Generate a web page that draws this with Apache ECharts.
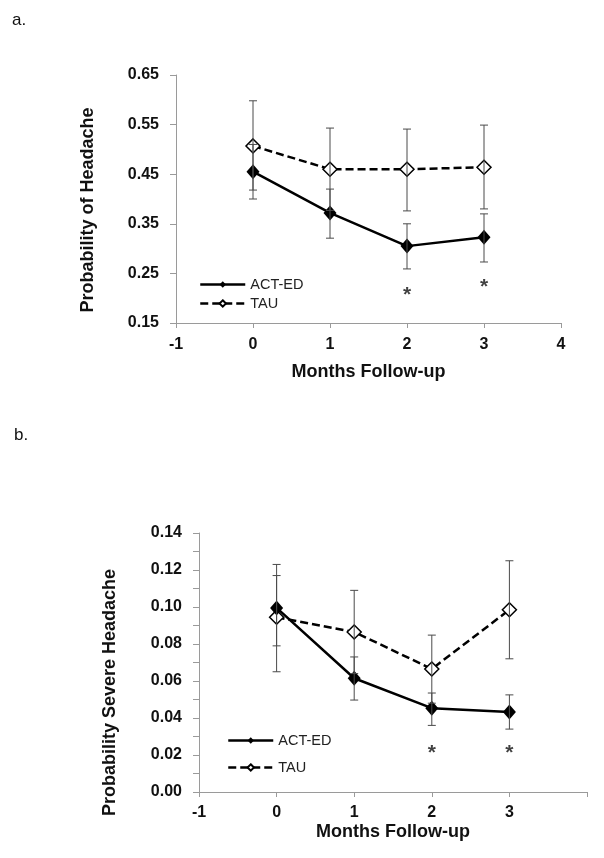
<!DOCTYPE html>
<html>
<head>
<meta charset="utf-8">
<script src="https://cdn.jsdelivr.net/npm/echarts@6/dist/echarts.min.js"></script>
<style>
html,body{margin:0;padding:0;background:#fff;}
#chart{width:604px;height:858px;}
</style>
</head>
<body>
<div id="chart"></div>
<script>
// ---- Data ----
var months = [0, 1, 2, 3];
var seriesNames = ['ACT-ED', 'TAU'];

// Panel a: Probability of Headache
var aAct      = [0.455, 0.372, 0.305, 0.323];
var aActLower = [0.400, 0.321, 0.259, 0.273];
var aActUpper = [0.510, 0.420, 0.350, 0.370];
var aTau      = [0.507, 0.460, 0.460, 0.464];
var aTauLower = [0.418, 0.377, 0.376, 0.380];
var aTauUpper = [0.598, 0.543, 0.541, 0.549];
var aStarX = [2, 3];
var aStarY = [0.2165, 0.233];

// Panel b: Probability Severe Headache
var bAct      = [0.0995, 0.0615, 0.0453, 0.0433];
var bActLower = [0.0790, 0.0497, 0.0360, 0.0340];
var bActUpper = [0.1170, 0.0730, 0.0535, 0.0525];
var bTau      = [0.0945, 0.0865, 0.0665, 0.0985];
var bTauLower = [0.0650, 0.0640, 0.0480, 0.0720];
var bTauUpper = [0.1230, 0.1090, 0.0848, 0.1250];
var bStarX = [2, 3];
var bStarY = [0.0238, 0.0238];

// ---- Helpers ----
var FONT = "'Liberation Sans', Arial, sans-serif";
var AXIS_GRAY = '#9a9a9a';
var TEXT = '#111';

function pairs(xs, ys) { return xs.map(function (x, i) { return [x, ys[i]]; }); }
function triples(xs, lo, hi) { return xs.map(function (x, i) { return [x, lo[i], hi[i]]; }); }

function errRender(params, api) {
  var x = api.value(0);
  var p1 = api.coord([x, api.value(1)]);
  var p2 = api.coord([x, api.value(2)]);
  var w = 4;
  var st = { stroke: '#4a4a4a', lineWidth: 1 };
  return {
    type: 'group',
    children: [
      { type: 'line', shape: { x1: p1[0], y1: p1[1], x2: p2[0], y2: p2[1] }, style: st },
      { type: 'line', shape: { x1: p1[0] - w, y1: p1[1], x2: p1[0] + w, y2: p1[1] }, style: st },
      { type: 'line', shape: { x1: p2[0] - w, y1: p2[1], x2: p2[0] + w, y2: p2[1] }, style: st }
    ]
  };
}

function xAxisCfg(gridIndex, nameGap, labelMargin, hide4) {
  return {
    type: 'value', gridIndex: gridIndex, min: -1, max: 4, interval: 1,
    name: 'Months Follow-up', nameLocation: 'middle', nameGap: nameGap,
    nameTextStyle: { fontFamily: FONT, fontWeight: 'bold', fontSize: 18, color: TEXT },
    axisLine: { onZero: false, lineStyle: { color: AXIS_GRAY, width: 1 } },
    axisTick: { show: true, length: 5, lineStyle: { color: AXIS_GRAY } },
    splitLine: { show: false },
    axisLabel: {
      margin: labelMargin, fontFamily: FONT, fontWeight: 'bold', fontSize: 16, color: TEXT,
      formatter: function (v) { return (hide4 && v === 4) ? '' : String(v); }
    }
  };
}

function actSeries(xi, yi, data) {
  return {
    name: 'ACT-ED', type: 'line', xAxisIndex: xi, yAxisIndex: yi,
    data: pairs(months, data), z: 2,
    symbol: 'diamond', symbolSize: [13, 15],
    itemStyle: { color: '#000' },
    lineStyle: { color: '#000', width: 2.5, type: 'solid' }
  };
}
function tauSeries(xi, yi, data) {
  return {
    name: 'TAU', type: 'line', xAxisIndex: xi, yAxisIndex: yi,
    data: pairs(months, data), z: 2,
    symbol: 'diamond', symbolSize: 14, showAllSymbol: true,
    itemStyle: { color: '#fff', borderColor: '#000', borderWidth: 1.5 },
    lineStyle: { color: '#000', width: 2.5, type: [8, 4] }
  };
}
function errSeries(xi, yi, data) {
  return {
    type: 'custom', xAxisIndex: xi, yAxisIndex: yi, z: 3, silent: true,
    renderItem: errRender, data: data
  };
}
function starSeries(xi, yi, xs, ys) {
  return {
    type: 'scatter', xAxisIndex: xi, yAxisIndex: yi, symbol: 'circle', symbolSize: 1,
    itemStyle: { color: 'rgba(0,0,0,0)' }, silent: true, z: 4,
    data: pairs(xs, ys),
    label: { show: true, position: 'inside', offset: [0, 5], formatter: '*',
      fontFamily: FONT, fontWeight: 'bold', fontSize: 21, color: TEXT }
  };
}

var chart = echarts.init(document.getElementById('chart'), null, { renderer: 'canvas' });

var legendText = { fontFamily: FONT, fontSize: 14.5, color: '#222' };

var option = {
  backgroundColor: '#fff',
  animation: false,
  grid: [
    { left: 176, right: 43, top: 75, height: 248 },
    { left: 199, right: 17, top: 533, height: 259 }
  ],
  legend: [
    {
      data: seriesNames, orient: 'vertical', left: 194, top: 272,
      itemWidth: 45, itemHeight: 8, itemGap: 4, textStyle: legendText,
      lineStyle: { width: 2.5 }
    },
    {
      data: seriesNames, orient: 'vertical', left: 222, top: 728,
      itemWidth: 45, itemHeight: 8, itemGap: 12, textStyle: legendText,
      lineStyle: { width: 2.5 }
    }
  ],
  xAxis: [
    xAxisCfg(0, 40, 14, false),
    xAxisCfg(1, 31, 13, true)
  ],
  yAxis: [
    {
      type: 'value', gridIndex: 0, min: 0.15, max: 0.65, interval: 0.1,
      name: 'Probability of Headache', nameLocation: 'middle', nameGap: 79,
      nameTextStyle: { fontFamily: FONT, fontWeight: 'bold', fontSize: 18, color: TEXT, padding: [0, 22, 0, 0] },
      axisLine: { show: true, onZero: false, lineStyle: { color: AXIS_GRAY, width: 1 } },
      axisTick: { show: true, length: 6, lineStyle: { color: AXIS_GRAY } },
      splitLine: { show: false },
      axisLabel: { margin: 17, fontFamily: FONT, fontWeight: 'bold', fontSize: 16, color: TEXT,
        formatter: function (v) { return v.toFixed(2); } }
    },
    {
      type: 'value', gridIndex: 1, min: 0, max: 0.14, interval: 0.02,
      name: 'Probability Severe Headache', nameLocation: 'middle', nameGap: 80,
      nameTextStyle: { fontFamily: FONT, fontWeight: 'bold', fontSize: 18, color: TEXT, padding: [0, 60, 0, 0] },
      axisLine: { show: true, onZero: false, lineStyle: { color: AXIS_GRAY, width: 1 } },
      axisTick: { show: true, length: 6, lineStyle: { color: AXIS_GRAY } },
      minorTick: { show: true, splitNumber: 2, length: 6, lineStyle: { color: AXIS_GRAY } },
      splitLine: { show: false },
      axisLabel: { margin: 17, fontFamily: FONT, fontWeight: 'bold', fontSize: 16, color: TEXT,
        formatter: function (v) { return v.toFixed(2); } }
    }
  ],
  graphic: [
    { type: 'text', left: 12, top: 12, style: { text: 'a.', fontFamily: FONT, fontSize: 17, fill: TEXT } },
    { type: 'text', left: 14, top: 427, style: { text: 'b.', fontFamily: FONT, fontSize: 17, fill: TEXT } }
  ],
  series: [
    tauSeries(0, 0, aTau),
    actSeries(0, 0, aAct),
    errSeries(0, 0, triples(months, aActLower, aActUpper)),
    errSeries(0, 0, triples(months, aTauLower, aTauUpper)),
    starSeries(0, 0, aStarX, aStarY),

    tauSeries(1, 1, bTau),
    actSeries(1, 1, bAct),
    errSeries(1, 1, triples(months, bActLower, bActUpper)),
    errSeries(1, 1, triples(months, bTauLower, bTauUpper)),
    starSeries(1, 1, bStarX, bStarY)
  ]
};
chart.setOption(option);
</script>
</body>
</html>
